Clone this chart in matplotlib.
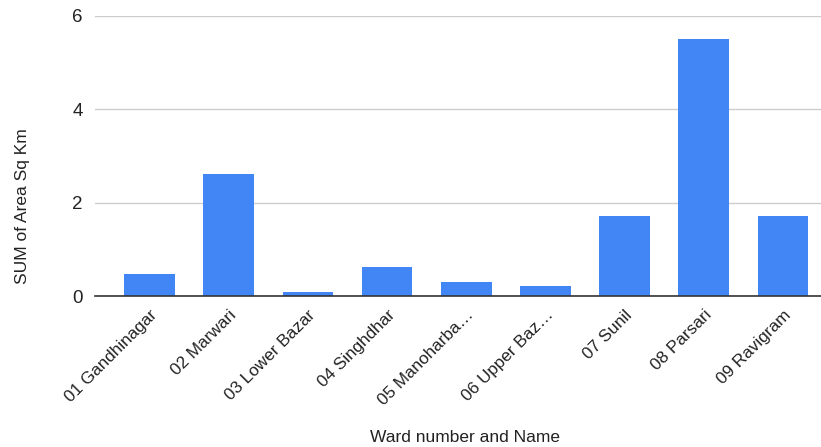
import numpy as np
import matplotlib
matplotlib.use("Agg")
import matplotlib.pyplot as plt

# ===============================
# Data
# ===============================
wards = [
    "01 Gandhinagar", "02 Marwari", "03 Lower Bazar", "04 Singhdhar",
    "05 Manoharba\u2026", "06 Upper Baz\u2026", "07 Sunil", "08 Parsari",
    "09 Ravigram",
]
area_sq_km = [0.47, 2.62, 0.09, 0.63, 0.31, 0.22, 1.72, 5.50, 1.72]
y_ticks = [0, 2, 4, 6]

plt.rcParams["font.family"] = ["Liberation Sans", "DejaVu Sans"]

# ===============================
# Plot
# ===============================
fig = plt.figure(figsize=(8.21, 4.47), dpi=100)
ax = fig.add_axes([95 / 821, 1 - 296.3 / 447, 726 / 821, 280.3 / 447])

x = np.arange(len(wards))
ax.bar(x, area_sq_km, width=0.64, color="#4285F4", zorder=3)

ax.set_ylim(0, 6)
ax.set_xlim(-0.69, 8.48)
ax.set_yticks(y_ticks)
ax.set_yticklabels([str(t) for t in y_ticks], fontsize=13.5, color="#222222")
ax.set_xticks(x)
ax.set_xticklabels(wards, rotation=45, ha="right", rotation_mode="anchor",
                   fontsize=12.3, color="#222222")
ax.tick_params(axis="both", length=0)
ax.tick_params(axis="y", pad=9)
ax.tick_params(axis="x", pad=8)

ax.grid(axis="y", color="#cccccc", linewidth=1, zorder=0)
for s in ["top", "right", "left"]:
    ax.spines[s].set_visible(False)
ax.spines["bottom"].set_color("#333333")
ax.spines["bottom"].set_linewidth(1.2)
ax.spines["bottom"].set_zorder(4)

fig.text(465 / 821, 1 - 437 / 447, "Ward number and Name", ha="center",
         va="center", fontsize=12.5, color="#222222")
fig.text(22 / 821, 1 - 206 / 447, "SUM of Area Sq Km", ha="center",
         va="center", rotation=90, fontsize=12.5, color="#222222")

plt.savefig("out.png", dpi=100)
